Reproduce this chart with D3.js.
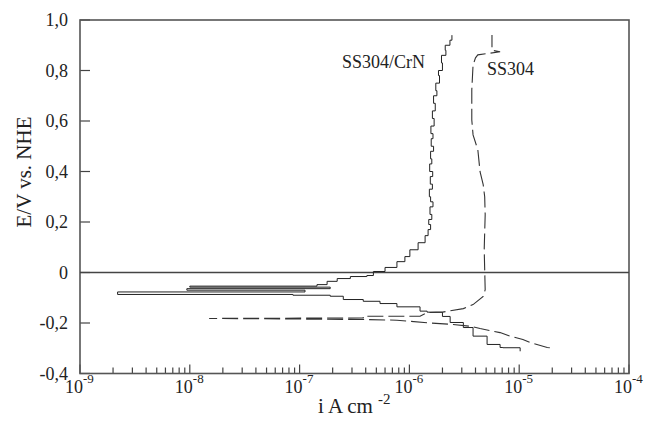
<!DOCTYPE html>
<html>
<head>
<meta charset="utf-8">
<script src="https://cdn.jsdelivr.net/npm/d3@7"></script>
<style>
  body { margin: 0; background: #fff; }
</style>
</head>
<body>
<div id="chart"></div>
<script>
const WIDTH = 645;
const HEIGHT = 431;
const FONT = "Liberation Serif";

// datos
const xDecades = [-9, -8, -7, -6, -5, -4];
const yTicks = [-0.4, -0.2, 0, 0.2, 0.4, 0.6, 0.8, 1.0];

// SS304/CrN (linea continua), barrido catodico -> anodico
const crnE = [-0.312, -0.298, -0.297, -0.285, -0.252, -0.218, -0.198, -0.174, -0.157, -0.153,
  -0.136, -0.123, -0.114, -0.107, -0.094, -0.090, -0.087, -0.077, -0.070, -0.064, -0.058,
  -0.054, -0.048, -0.035, -0.024, -0.016, -0.012, 0.004, 0.020, 0.043, 0.063, 0.090, 0.118,
  0.146, 0.17, 0.19, 0.21, 0.23, 0.26, 0.28, 0.30, 0.33, 0.35, 0.38, 0.40, 0.43, 0.45, 0.48,
  0.50, 0.53, 0.55, 0.58, 0.61, 0.64, 0.67, 0.70, 0.72, 0.75, 0.78, 0.80, 0.83, 0.86, 0.88,
  0.90, 0.92, 0.94];
const crnI = [1.02e-5, 1.02e-5, 7.1e-6, 6.7e-6, 5.1e-6, 3.8e-6, 3.1e-6, 2.35e-6, 2.0e-6, 1.45e-6,
  1.25e-6, 7.7e-7, 5.4e-7, 3.8e-7, 2.5e-7, 1.9e-7, 8.7e-8, 2.2e-9, 1.12e-7, 9.4e-9, 1.9e-7,
  1.0e-8, 1.44e-7, 1.78e-7, 2.2e-7, 2.9e-7, 4.1e-7, 4.7e-7, 6.0e-7, 7.7e-7, 9.1e-7, 1.01e-6, 1.2e-6,
  1.39e-6, 1.48e-6, 1.56e-6, 1.50e-6, 1.60e-6, 1.54e-6, 1.64e-6, 1.56e-6, 1.52e-6, 1.62e-6, 1.55e-6,
  1.63e-6, 1.53e-6, 1.60e-6, 1.56e-6, 1.66e-6, 1.58e-6, 1.64e-6, 1.57e-6, 1.68e-6, 1.62e-6, 1.72e-6,
  1.66e-6, 1.78e-6, 1.74e-6, 1.88e-6, 1.84e-6, 2.00e-6, 1.96e-6, 2.15e-6, 2.12e-6, 2.34e-6, 2.44e-6];

// SS304 (linea a trazos)
const ssE = [-0.298, -0.297, -0.277, -0.265, -0.252, -0.238, -0.222, -0.213, -0.206, -0.199,
  -0.189, -0.186, -0.182, -0.180, -0.173, -0.173, -0.159, -0.157, -0.143, -0.127, -0.095, -0.068,
  0.091, 0.229, 0.300, 0.348, 0.399, 0.486, 0.545, 0.604, 0.723, 0.822, 0.850, 0.862, 0.874,
  0.880, 0.941];
const ssI = [1.9e-5, 1.8e-5, 1.25e-5, 1.08e-5, 8.2e-6, 6.7e-6, 4.4e-6, 3.6e-6, 2.5e-6, 1.45e-6,
  7.7e-7, 3.8e-7, 1.5e-8, 3.8e-7, 3.8e-7, 1.25e-6, 1.45e-6, 2.0e-6, 3.1e-6, 3.8e-6, 4.7e-6, 4.9e-6,
  4.8e-6, 4.9e-6, 4.85e-6, 4.7e-6, 4.4e-6, 4.2e-6, 3.8e-6, 3.7e-6, 3.7e-6, 3.8e-6, 4.0e-6, 4.2e-6,
  6.7e-6, 5.65e-6, 5.65e-6];

const svg = d3.select("#chart")
  .append("svg")
  .attr("width", WIDTH)
  .attr("height", HEIGHT)
  .attr("font-family", FONT);

const mLeft = 80, mRight = 629, mTop = 20, mBottom = 373.5;

const x = d3.scaleLog().domain([1e-9, 1e-4]).range([mLeft, mRight]);
const y = d3.scaleLinear().domain([-0.4, 1.0]).range([mBottom, mTop]);

// ticks del eje x (menores y decadas), hacia adentro
const minor = [];
xDecades.slice(0, -1).forEach(d => {
  for (let k = 2; k <= 9; k++) minor.push(k * Math.pow(10, d));
});
const major = xDecades.map(d => Math.pow(10, d));

svg.append("g")
  .selectAll("line")
  .data(minor)
  .join("line")
  .attr("x1", d => x(d)).attr("x2", d => x(d))
  .attr("y1", mBottom).attr("y2", mBottom - 6)
  .attr("stroke", "#444").attr("stroke-width", 1.2);
svg.append("g")
  .selectAll("line")
  .data(major)
  .join("line")
  .attr("x1", d => x(d)).attr("x2", d => x(d))
  .attr("y1", mBottom).attr("y2", mBottom - 9)
  .attr("stroke", "#444").attr("stroke-width", 1.2);

// etiquetas 10^n
const xl = svg.append("g")
  .selectAll("text")
  .data(xDecades)
  .join("text")
  .style("font-family", FONT)
  .attr("fill", "#222")
  .attr("x", d => x(Math.pow(10, d)) - 15)
  .attr("y", 393)
  .attr("font-size", 18);
xl.append("tspan").text("10");
xl.append("tspan").attr("dy", -10).attr("font-size", 13).text(d => d);

// eje y
const fmt = v => v === 0 ? "0" : d3.format(".1f")(v).replace("−", "-").replace(".", ",");
svg.append("g")
  .selectAll("line")
  .data(yTicks)
  .join("line")
  .attr("x1", mLeft).attr("x2", mLeft + 10)
  .attr("y1", d => y(d)).attr("y2", d => y(d))
  .attr("stroke", "#444").attr("stroke-width", 1.2);
svg.append("g")
  .selectAll("text")
  .data(yTicks)
  .join("text")
  .style("font-family", FONT)
  .attr("font-size", 18)
  .attr("fill", "#222")
  .attr("text-anchor", "end")
  .attr("dominant-baseline", "central")
  .attr("x", mLeft - 12)
  .attr("y", d => y(d))
  .text(fmt);

// marco
svg.append("rect")
  .attr("x", mLeft).attr("y", mTop)
  .attr("width", mRight - mLeft).attr("height", mBottom - mTop)
  .attr("fill", "none").attr("stroke", "#555").attr("stroke-width", 1.6);

// linea en cero
svg.append("line")
  .attr("x1", mLeft).attr("x2", mRight)
  .attr("y1", y(0)).attr("y2", y(0))
  .attr("stroke", "#444").attr("stroke-width", 1.5);

// curvas
const crn = crnE.map((e, i) => ({E: e, I: crnI[i]}));
const ss = ssE.map((e, i) => ({E: e, I: ssI[i]}));

svg.append("path")
  .datum(crn)
  .attr("fill", "none")
  .attr("stroke", "#222")
  .attr("stroke-width", 1)
  .attr("d", d3.line().x(d => x(d.I)).y(d => y(d.E)).curve(d3.curveStepAfter));

svg.append("path")
  .datum(ss)
  .attr("fill", "none")
  .attr("stroke", "#333")
  .attr("stroke-width", 1.1)
  .attr("stroke-dasharray", "16,5")
  .attr("d", d3.line().x(d => x(d.I)).y(d => y(d.E)));

// nombres de las curvas
svg.append("text").attr("x", 342).attr("y", 68).attr("font-size", 18)
  .style("font-family", FONT).attr("fill", "#222").text("SS304/CrN");
svg.append("text").attr("x", 487).attr("y", 75).attr("font-size", 18)
  .style("font-family", FONT).attr("fill", "#222").text("SS304");

// titulos de ejes
const xt = svg.append("text")
  .attr("x", 318).attr("y", 413)
  .style("font-family", FONT).attr("fill", "#222")
  .attr("font-size", 21);
xt.append("tspan").text("i A cm ");
xt.append("tspan").attr("dy", -9).attr("font-size", 15).text("-2");

svg.append("text")
  .attr("transform", "translate(31,172) rotate(-90)")
  .attr("text-anchor", "middle")
  .style("font-family", FONT).attr("fill", "#222")
  .attr("font-size", 21)
  .text("E/V vs. NHE");
</script>
</body>
</html>
